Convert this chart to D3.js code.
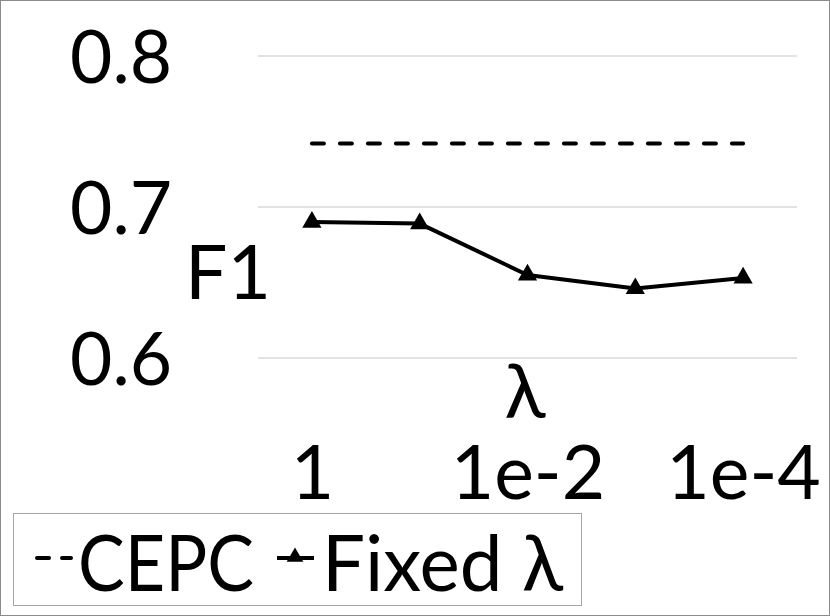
<!DOCTYPE html>
<html><head><meta charset="utf-8">
<script src="https://cdn.jsdelivr.net/npm/d3@7"></script>
<style>body{margin:0;background:#fff}svg{display:block}text{font-family:Lato,"Open Sans",sans-serif;fill:#000}</style>
</head><body><svg id="c" width="830" height="616"></svg>
<script>
const categories = ["1","1e-1","1e-2","1e-3","1e-4"];
const fixedLambda = [0.690, 0.689, 0.655, 0.646, 0.653];
const cepc = [0.742, 0.742, 0.742, 0.742, 0.742];
const yTicks = [0.6, 0.7, 0.8];
const seriesNames = ["CEPC", "Fixed λ"];

const svg = d3.select("#c");
svg.append("rect").attr("x",0.5).attr("y",0.5).attr("width",829).attr("height",615)
  .attr("fill","#fff").attr("stroke","#8c8c8c");

const x = d3.scalePoint().domain(categories).range([258,797]).padding(0.5);
const y = d3.scaleLinear().domain([0.6,0.8]).range([358,56]);

// gridlines
svg.append("g").selectAll("line").data(yTicks).join("line")
  .attr("x1",258).attr("x2",797).attr("y1",d=>y(d)).attr("y2",d=>y(d))
  .attr("stroke","#d9d9d9").attr("stroke-width",1.3);

// y axis
const ya = svg.append("g").attr("transform","translate(172,0)")
  .call(d3.axisLeft(y).tickValues(yTicks).tickSize(0).tickPadding(0).tickFormat(d3.format(".1f")));
ya.select(".domain").remove();
ya.selectAll("text").attr("font-size",73).attr("font-family","Lato").attr("dy","0.36em");

// x axis (every other category label shown)
const xa = svg.append("g")
  .call(d3.axisBottom(x).tickValues(categories.filter((d,i)=>i%2===0)).tickSize(0));
xa.select(".domain").remove();
xa.selectAll("text").attr("font-size",75).attr("font-family","Lato").attr("y",499).attr("dy",0);

// axis titles
svg.append("text").attr("x",228).attr("y",299).attr("text-anchor","middle").attr("font-size",75).text("F1");
svg.append("text").attr("x",525).attr("y",418).attr("text-anchor","middle").attr("font-size",76).text("λ");

// CEPC dashed
const line = d3.line().x((d,i)=>x(categories[i])).y(d=>y(d));
svg.append("path").datum(cepc).attr("d",line).attr("fill","none").attr("stroke","#000")
  .attr("stroke-width",4).attr("stroke-dasharray","12,16").attr("stroke-linecap","round");

// Fixed lambda
svg.append("path").datum(fixedLambda).attr("d",line).attr("fill","none").attr("stroke","#000")
  .attr("stroke-width",4).attr("stroke-linejoin","round");
const tri = d3.symbol().type(d3.symbolTriangle).size(160);
svg.append("g").selectAll("path").data(fixedLambda).join("path")
  .attr("transform",(d,i)=>`translate(${x(categories[i])},${y(d)})`).attr("d",tri).attr("fill","#000");

// legend
const lg = svg.append("g");
lg.append("rect").attr("x",13.5).attr("y",513.5).attr("width",568).attr("height",92)
  .attr("fill","#fff").attr("stroke","#a6a6a6");
lg.append("line").attr("x1",37).attr("x2",71).attr("y1",558).attr("y2",558).attr("stroke","#000")
  .attr("stroke-width",4).attr("stroke-dasharray","12,13").attr("stroke-linecap","round");
lg.append("text").attr("x",78).attr("y",591).attr("font-size",78)
  .attr("textLength",176).attr("lengthAdjust","spacingAndGlyphs").text(seriesNames[0]);
lg.append("line").attr("x1",277).attr("x2",314).attr("y1",558).attr("y2",558).attr("stroke","#000").attr("stroke-width",4);
lg.append("path").attr("transform","translate(295,557)").attr("d",d3.symbol().type(d3.symbolTriangle).size(120)).attr("fill","#000");
lg.append("text").attr("x",322).attr("y",591).attr("font-size",78)
  .attr("textLength",241).attr("lengthAdjust","spacingAndGlyphs").text(seriesNames[1]);
</script></body></html>
